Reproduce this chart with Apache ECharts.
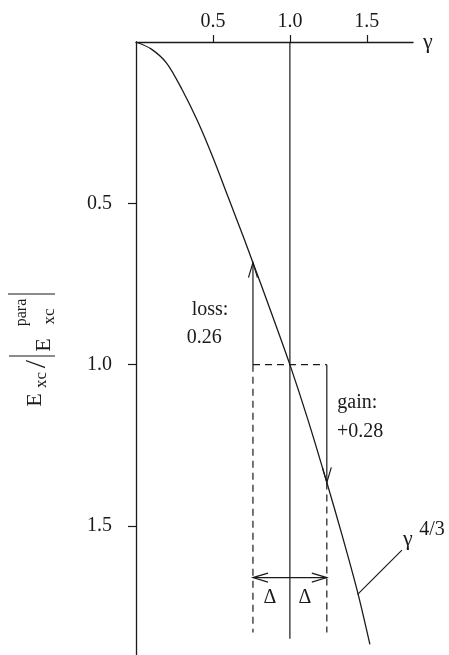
<!DOCTYPE html>
<html>
<head>
<meta charset="utf-8">
<script src="https://cdn.jsdelivr.net/npm/echarts@6/dist/echarts.min.js"></script>
<style>
  html, body { margin: 0; padding: 0; background: #fff; }
  #chart { width: 449px; height: 655px; }
</style>
</head>
<body>
<div id="chart"></div>
<script>
// Axis ticks
const gammaTicks = [0.5, 1.0, 1.5];
const ratioTicks = [0.5, 1.0, 1.5];

// Exchange-correlation energy ratio along the scaling parameter γ
const curveGamma = [0, 0.1, 0.2, 0.3, 0.4, 0.5, 0.6, 0.7, 0.76, 0.88, 1.0, 1.12, 1.24, 1.34, 1.44, 1.52];
const curveRatio = [0, 0.022, 0.066, 0.148, 0.245, 0.358, 0.482, 0.607, 0.684, 0.84, 1.0, 1.175, 1.365, 1.53, 1.705, 1.867];

// Construction around γ = 1 with a step of ±Δ
const gammaRef = 1.0;
const gammaLow = 0.76;
const gammaHigh = 1.24;
const ratioRef = 1.0;
const ratioAtLow = 0.684;
const ratioAtHigh = 1.365;
const deltaLevel = 1.66;
const guideBottom = 1.85;
const dashBottom = 1.83;
const tagOnCurve = [1.44, 1.712];
const tagEnd = [1.728, 1.575];

const INK = '#1a1a1a';
const SERIF = '"Liberation Serif", "Times New Roman", serif';

const solidSegments = [
  [gammaRef, 0, gammaRef, guideBottom],
  [tagOnCurve[0], tagOnCurve[1], tagEnd[0], tagEnd[1]]
];
const dashedSegments = [
  [gammaLow, ratioRef, gammaHigh, ratioRef],
  [gammaLow, ratioRef, gammaLow, dashBottom],
  [gammaHigh, ratioAtHigh, gammaHigh, dashBottom]
];
const arrowSegments = [
  [gammaLow, ratioRef, gammaLow, ratioAtLow],
  [gammaHigh, ratioRef, gammaHigh, ratioAtHigh]
];
const doubleArrowSegments = [
  [gammaLow, deltaLevel, gammaHigh, deltaLevel]
];

function openHead(tip, from) {
  const dx = tip[0] - from[0], dy = tip[1] - from[1];
  const len = Math.hypot(dx, dy) || 1;
  const ux = dx / len, uy = dy / len;
  const L = 15, W = 4.5;
  const bx = tip[0] - ux * L, by = tip[1] - uy * L;
  return {
    type: 'polyline',
    shape: { points: [[bx - uy * W, by + ux * W], tip, [bx + uy * W, by - ux * W]] },
    style: { stroke: INK, lineWidth: 1.2, fill: null }
  };
}

function segmentSeries(name, rows, opts) {
  return {
    type: 'custom',
    name: name,
    coordinateSystem: 'cartesian2d',
    clip: false,
    silent: true,
    encode: { x: [0, 2], y: [1, 3] },
    data: rows,
    renderItem: function (params, api) {
      const p1 = api.coord([api.value(0), api.value(1)]);
      const p2 = api.coord([api.value(2), api.value(3)]);
      const children = [{
        type: 'line',
        shape: { x1: p1[0], y1: p1[1], x2: p2[0], y2: p2[1] },
        style: { stroke: INK, lineWidth: 1.2, lineDash: opts.dashed ? [7, 5] : null }
      }];
      if (opts.headEnd) children.push(openHead(p2, p1));
      if (opts.headStart) children.push(openHead(p1, p2));
      return { type: 'group', children: children };
    }
  };
}

function txt(text, x, y, size, align) {
  return {
    type: 'text', x: x, y: y, silent: true,
    style: { text: text, font: size + 'px ' + SERIF, fill: INK, align: align || 'left', verticalAlign: 'middle' }
  };
}

function bar(lx, y1, y2) {
  return { type: 'line', silent: true, shape: { x1: lx, y1: y1, x2: lx, y2: y2 }, style: { stroke: INK, lineWidth: 1.2 } };
}

const chart = echarts.init(document.getElementById('chart'), null, { renderer: 'canvas' });

chart.setOption({
  backgroundColor: '#fff',
  animation: false,
  grid: { left: 136, top: 42, width: 277, height: 613 },
  xAxis: {
    type: 'value', position: 'top', min: 0, max: 1.8, interval: 0.5,
    name: 'γ', nameLocation: 'end', nameGap: 10,
    nameTextStyle: { fontFamily: SERIF, fontSize: 22, color: INK, verticalAlign: 'middle', padding: [10, 0, 0, 0] },
    axisLine: { onZero: false, lineStyle: { color: INK, width: 1.3 } },
    axisTick: { customValues: gammaTicks, length: 7, inside: false, lineStyle: { color: INK, width: 1.2 } },
    axisLabel: { customValues: gammaTicks, margin: 10, fontFamily: SERIF, fontSize: 20, color: INK,
      formatter: v => v.toFixed(1) },
    splitLine: { show: false }
  },
  yAxis: {
    type: 'value', inverse: true, min: 0, max: 1.9, interval: 0.5,
    axisLine: { onZero: false, lineStyle: { color: INK, width: 1.3 } },
    axisTick: { customValues: ratioTicks, length: 8, inside: false, lineStyle: { color: INK, width: 1.2 } },
    axisLabel: { customValues: ratioTicks, margin: 24, fontFamily: SERIF, fontSize: 20, color: INK,
      formatter: v => v.toFixed(1) },
    splitLine: { show: false }
  },
  series: [
    {
      type: 'line', name: 'curve', smooth: 0.3, showSymbol: false, silent: true,
      data: curveGamma.map((g, i) => [g, curveRatio[i]]),
      lineStyle: { color: INK, width: 1.3 }
    },
    segmentSeries('guides', solidSegments, {}),
    segmentSeries('dashes', dashedSegments, { dashed: true }),
    segmentSeries('changes', arrowSegments, { headEnd: true }),
    segmentSeries('delta', doubleArrowSegments, { headEnd: true, headStart: true })
  ],
  graphic: [
    txt('loss:', 191.7, 309.7, 20),
    txt('0.26', 186.7, 337.5, 20),
    txt('gain:', 337.3, 403, 20),
    txt('+0.28', 337, 431.7, 20),
    txt('Δ', 270, 598, 20, 'center'),
    txt('Δ', 305, 598, 20, 'center'),
    txt('γ', 403, 539, 22),
    txt('4/3', 419.3, 530, 20),
    {
      type: 'group', x: 43, y: 352, rotation: Math.PI / 2, silent: true,
      children: [
        txt('E', -48, -7.6, 22, 'center'),
        txt('xc', -28, -1.4, 17, 'center'),
        txt('/', -12, -5.5, 30, 'center'),
        bar(-4, -34, 12),
        txt('E', 7, 1.0, 22, 'center'),
        txt('xc', 35.5, 6.6, 17, 'center'),
        txt('para', 39.5, -21.4, 16, 'center'),
        bar(58, -35, 12)
      ]
    }
  ]
});
</script>
</body>
</html>
